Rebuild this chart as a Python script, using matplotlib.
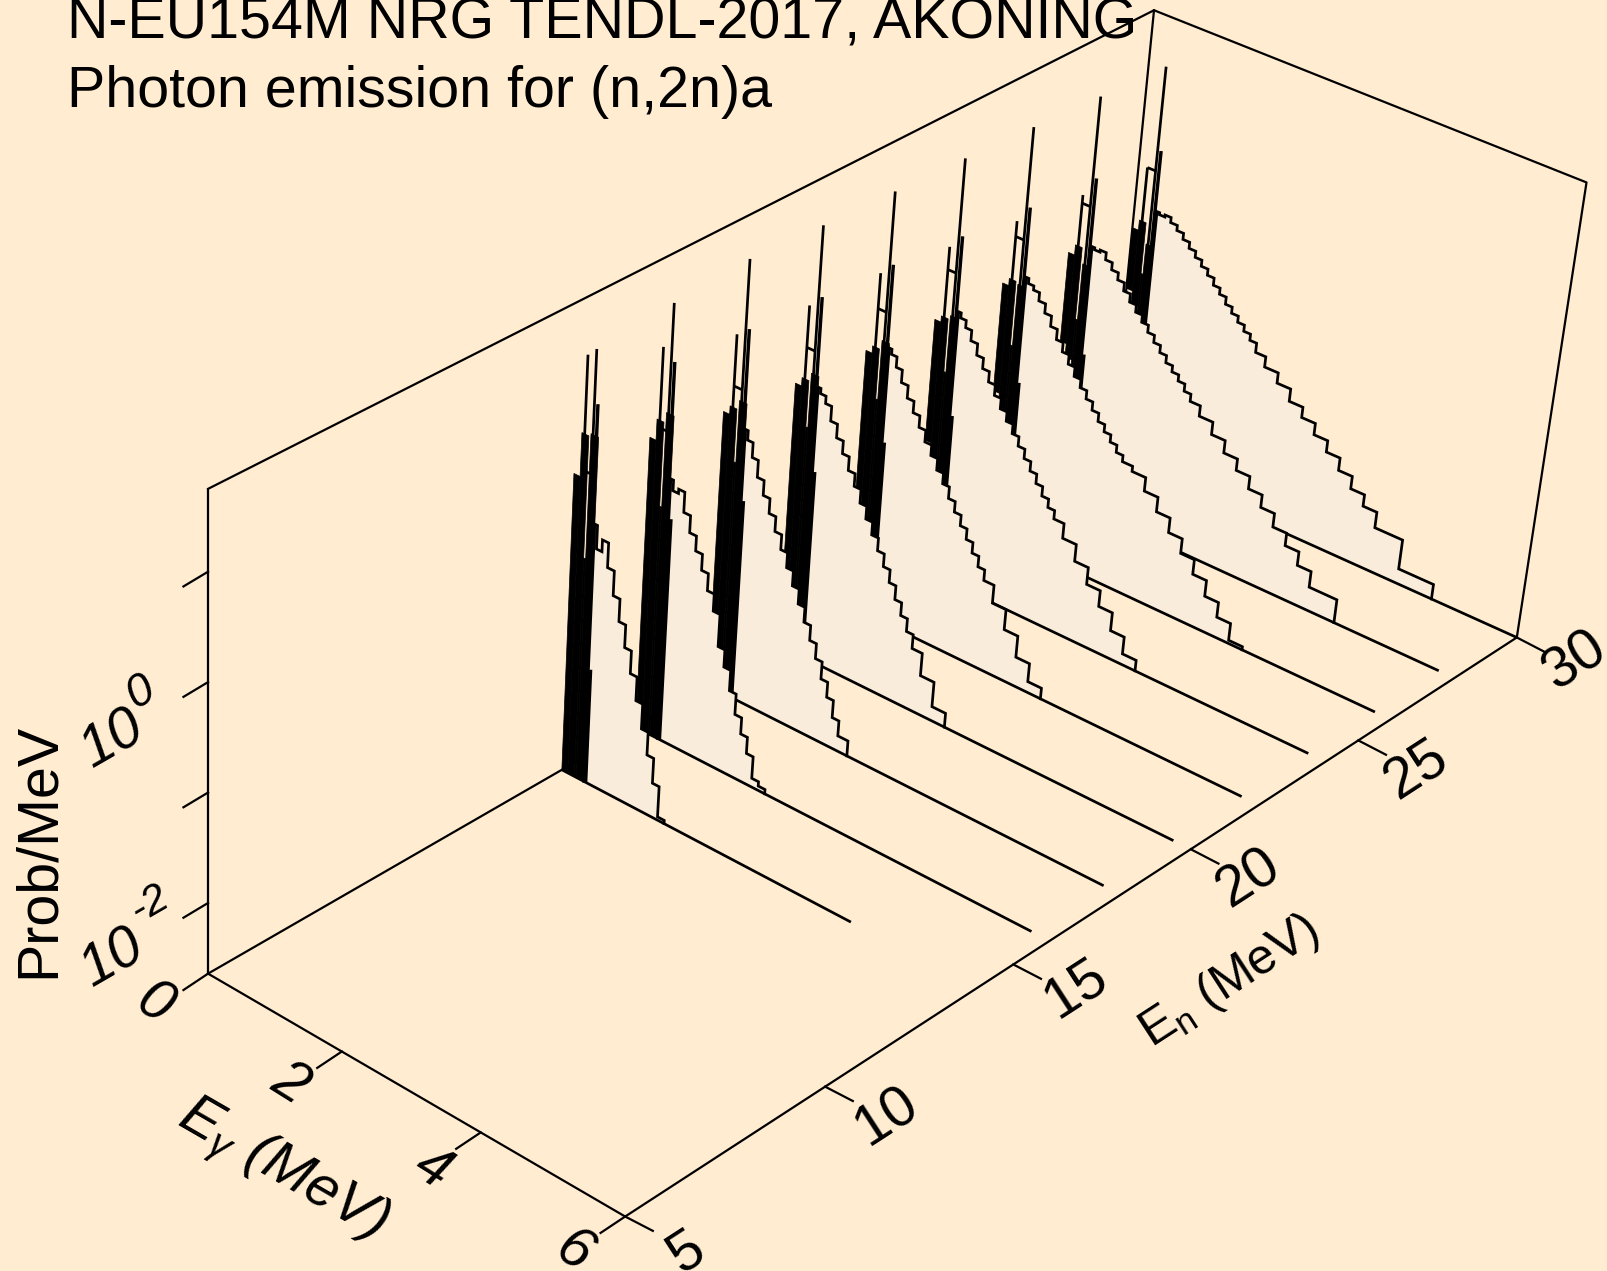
import numpy as np
import matplotlib
matplotlib.use('Agg')
import matplotlib.pyplot as plt

plt.rcParams['font.family'] = ['Liberation Sans', 'DejaVu Sans']
plt.rcParams['mathtext.fontset'] = 'custom'
plt.rcParams['mathtext.rm'] = 'Liberation Sans'
plt.rcParams['mathtext.it'] = 'Liberation Sans:italic'

# Dados: log10(Prob/MeV) por bin
en_values = [14, 16, 18, 20, 22, 24, 26, 28, 30]
baseline_end = [4.25, 5.75, 5.76, 5.76, 5.76, 5.76, 5.78, 5.78, 6.0]
eg_edges = [0.33, 0.37, 0.45, 0.54, 0.64, 0.74, 0.84, 0.94, 1.04, 1.14, 1.24, 1.34, 1.44, 1.54, 1.64, 1.74, 1.84, 1.94,
            2.09, 2.29, 2.49, 2.69, 2.89, 3.09, 3.29, 3.49, 3.69, 3.89, 4.29, 4.79]

cont_14 = [-0.24, -0.46, -0.35, -0.58, -0.81, -1.02, -1.23, -1.44, -1.66, -1.89, -2.10, -2.33, -2.61]
cont_16 = [-0.20, -0.30, -0.26, -0.45, -0.61, -0.75, -0.90, -1.06, -1.22, -1.52, -1.68, -1.87,
           -2.06, -2.21, -2.36, -2.56, -2.60]
cont_18 = [-0.11, -0.20, -0.34, -0.50, -0.64, -0.78, -0.92, -1.06, -1.20, -1.34, -1.48, -1.62, -1.76,
           -1.90, -2.06, -2.20, -2.36, -2.50]
cont_20 = [-0.08, -0.13, -0.20, -0.34, -0.47, -0.59, -0.72, -0.84, -0.97, -1.09, -1.21, -1.33, -1.45,
           -1.57, -1.70, -1.82, -1.94, -2.07, -2.28, -2.51]
cont_22 = [-0.07, -0.12, -0.22, -0.34, -0.46, -0.57, -0.68, -0.79, -0.89, -1.00, -1.10, -1.21, -1.31,
           -1.41, -1.51, -1.61, -1.71, -1.81, -1.98, -2.17, -2.37, -2.54]
cont_24 = [-0.08, -0.13, -0.20, -0.30, -0.41, -0.51, -0.61, -0.71, -0.81, -0.90, -0.99, -1.08, -1.17,
           -1.26, -1.35, -1.44, -1.52, -1.60, -1.74, -1.90, -2.06, -2.21, -2.38, -2.54]
cont_26 = [-0.10, -0.15, -0.19, -0.27, -0.36, -0.46, -0.56, -0.65, -0.74, -0.83, -0.91, -0.99, -1.07,
           -1.15, -1.22, -1.29, -1.36, -1.42, -1.47, -1.60, -1.74, -1.88, -2.02, -2.16, -2.31,
           -2.45, -2.61]
cont_28 = [-0.15, -0.17, -0.15, -0.22, -0.29, -0.36, -0.44, -0.52, -0.59, -0.66, -0.73, -0.80, -0.87,
           -0.94, -1.00, -1.06, -1.13, -1.20, -1.30, -1.42, -1.54, -1.65, -1.77, -1.89, -2.02,
           -2.14, -2.27, -2.42]
cont_30 = [-0.15, -0.17, -0.15, -0.20, -0.25, -0.31, -0.37, -0.43, -0.49, -0.55, -0.62, -0.68, -0.75,
           -0.81, -0.87, -0.93, -0.99, -1.08, -1.18, -1.28, -1.40, -1.50, -1.61, -1.72, -1.84,
           -1.96, -2.07, -2.22, -2.50]
continuum = [cont_14, cont_16, cont_18, cont_20, cont_22, cont_24, cont_26, cont_28, cont_30]

# Picos e massa preta em energia baixa
body_edges = [0.0, 0.09, 0.19, 0.22, 0.33]
body_hi = [[0.13, 0.54, -0.60, 0.57], [0.09, 0.29, -0.50, 0.39], [-0.04, 0.04, -0.46, 0.13],
           [-0.14, -0.06, -0.50, 0.02], [-0.19, -0.12, -0.60, -0.03], [-0.25, -0.19, -0.70, -0.15],
           [-0.25, -0.18, -0.80, -0.20], [-0.30, -0.20, -0.90, -0.35], [-0.40, -0.30, -0.80, -0.50]]
body_lo = [[-2.64, -2.64, -2.64, -2.64], [-2.43, -2.64, -2.64, -2.64], [-2.05, -2.25, -2.45, -2.64],
           [-1.95, -2.10, -2.25, -2.40], [-1.55, -1.70, -1.85, -2.00], [-1.42, -1.55, -1.68, -1.82],
           [-1.30, -1.43, -1.56, -1.70], [-1.17, -1.30, -1.42, -1.55], [-1.00, -1.12, -1.25, -1.37]]
spike1_eg, spike2_eg, spike3_eg, bar_eg = 0.13, 0.25, 0.30, 0.36
spike1_top = [1.28, 0.98, 0.73, 0.64, 0.59, 0.49, 0.39, 0.30, 0.23]
spike2_top = [1.37, 1.43, 1.48, 1.44, 1.41, 1.38, 1.34, 1.30, 1.26]
spike3_top = [0.87, 0.89, 0.83, 0.77, 0.72, 0.64, 0.57, 0.51, 0.44]
bridge_level = [0.20, 0.22, 0.24, 0.24, 0.25, 0.27, 0.24, 0.22, 0.23]
bar_top = [-1.59, -0.57, -0.78, -0.88, -0.97, -1.08, -1.12, -1.20, -1.30]

eg_ticks = [0, 2, 4, 6]
en_ticks = [5, 10, 15, 20, 25, 30]
z_ticks = [-2, -1, 0, 1]

bg_color = '#FFECD1'
fill_color = '#FAECDA'

# Limites da caixa 3D
eg_min, eg_max = 0.0, 6.0
en_min, en_max = 5.0, 30.0
z_min, z_max = -2.64, 1.75


def homography(corners):
    # cantos na ordem (0,0), (1,0), (1,1), (0,1)
    src = [(0, 0), (1, 0), (1, 1), (0, 1)]
    a = []
    b = []
    for (u, v), (x, y) in zip(src, corners):
        a.append([u, v, 1, 0, 0, 0, -u * x, -v * x])
        a.append([0, 0, 0, u, v, 1, -u * y, -v * y])
        b += [x, y]
    h = np.linalg.solve(np.array(a, float), np.array(b, float))
    return np.append(h, 1.0).reshape(3, 3)


k = 1607 / 1568
floor_h = homography([(203 * k, 950 * k), (610 * k, 1187 * k), (1480 * k, 622 * k), (1083 * k, 443 * k)])
top_h = homography([(203 * k, 477 * k), (640 * k, 701 * k), (1548 * k, 178 * k), (1126 * k, 10 * k)])


def proj(eg, en, z):
    # perspectiva: plano do chão e do topo, z interpolado
    eg = np.atleast_1d(np.asarray(eg, float))
    en = np.broadcast_to(en, eg.shape).astype(float)
    z = np.broadcast_to(z, eg.shape).astype(float)
    p = np.vstack([(eg - eg_min) / (eg_max - eg_min), (en - en_min) / (en_max - en_min), np.ones_like(eg)])
    f = floor_h @ p
    t = top_h @ p
    f = f[:2] / f[2]
    t = t[:2] / t[2]
    w = (z - z_min) / (z_max - z_min)
    return f[0] + w * (t[0] - f[0]), f[1] + w * (t[1] - f[1])


fig = plt.figure(figsize=(16.07, 12.71), dpi=100, facecolor=bg_color)
ax = fig.add_axes([0, 0, 1, 1])
ax.set_xlim(0, 1607)
ax.set_ylim(1271, 0)
ax.axis('off')

lw_box = 1.6
lw_curve = 1.95


def line3d(eg, en, z, lw=lw_box, zorder=2):
    x, y = proj(eg, en, z)
    ax.plot(x, y, color='k', lw=lw, solid_capstyle='butt', solid_joinstyle='miter', zorder=zorder)


# Caixa
line3d([eg_min, eg_max], en_min, z_min)
x0, y0 = proj(eg_max, en_min, z_min)
x1, y1 = proj(eg_max, en_max, z_min)
ax.plot([x0[0], x1[0]], [y0[0], y1[0]], color='k', lw=lw_box, zorder=2)
line3d([eg_min, eg_min], en_min, [z_min, z_max])
x0, y0 = proj(eg_min, en_min, z_max)
x1, y1 = proj(eg_min, en_max, z_max)
x2, y2 = proj(eg_max, en_max, z_max)
x3, y3 = proj(eg_max, en_max, z_min)
x4, y4 = proj(eg_min, en_max, z_min)
x5, y5 = proj(eg_min, en_min, z_min)
ax.plot([x0[0], x1[0], x2[0], x3[0]], [y0[0], y1[0], y2[0], y3[0]], color='k', lw=lw_box, zorder=2)
ax.plot([x1[0], x4[0]], [y1[0], y4[0]], color='k', lw=lw_box, zorder=2)
ax.plot([x5[0], x4[0]], [y5[0], y4[0]], color='k', lw=lw_box, zorder=2)

# Curvas de trás para a frente
zo = 3
for i in range(len(en_values) - 1, -1, -1):
    en = en_values[i]
    vals = continuum[i]
    edges = eg_edges[:len(vals) + 1]
    eg_s = [edges[0]]
    z_s = [z_min]
    for j, v in enumerate(vals):
        eg_s += [edges[j], edges[j + 1]]
        z_s += [v, v]
    eg_s.append(edges[len(vals)])
    z_s.append(z_min)
    x, y = proj(eg_s, en, z_s)
    ax.fill(x, y, color=fill_color, lw=0, zorder=zo)
    ax.plot(x, y, color='k', lw=lw_curve, solid_joinstyle='miter', zorder=zo + 0.1)
    line3d([0, baseline_end[i]], en, z_min, lw=lw_curve, zorder=zo + 0.1)

    # massa preta
    for j in range(4):
        e0, e1 = body_edges[j], body_edges[j + 1]
        hi, lo = body_hi[i][j], body_lo[i][j]
        x, y = proj([e0, e1, e1, e0], en, [lo, lo, hi, hi])
        ax.fill(x, y, color='k', lw=0.5, zorder=zo + 0.2)
    # picos
    base = body_lo[i][1]
    line3d([spike1_eg, spike1_eg], en, [base, spike1_top[i]], lw=lw_curve, zorder=zo + 0.2)
    line3d([spike2_eg, spike2_eg], en, [body_lo[i][3], spike2_top[i]], lw=lw_curve, zorder=zo + 0.2)
    line3d([spike3_eg, spike3_eg], en, [body_lo[i][3], spike3_top[i]], lw=lw_curve + 0.5, zorder=zo + 0.2)
    line3d([spike1_eg, spike2_eg], en, bridge_level[i], lw=lw_curve, zorder=zo + 0.2)
    line3d([bar_eg, bar_eg], en, [z_min, bar_top[i]], lw=lw_curve + 0.7, zorder=zo + 0.2)
    zo += 1

# Marcas dos eixos
tick_eg = np.array([-24, 16]) * k
tick_en = np.array([27, 14]) * k
for t in eg_ticks:
    x, y = proj(t, en_min, z_min)
    ax.plot([x[0], x[0] + tick_eg[0]], [y[0], y[0] + tick_eg[1]], color='k', lw=lw_box, zorder=2)
for t in en_ticks:
    x, y = proj(eg_max, t, z_min)
    ax.plot([x[0], x[0] + tick_en[0]], [y[0], y[0] + tick_en[1]], color='k', lw=lw_box, zorder=2)
for t in z_ticks:
    x, y = proj(eg_min, en_min, t)
    ax.plot([x[0], x[0] + tick_eg[0]], [y[0], y[0] + tick_eg[1] * 0.9], color='k', lw=lw_box, zorder=2)

fs = 41.3


def label(x, y, s, rot, size=fs, style='normal'):
    ax.text(x * k, y * k, s, fontsize=size, rotation=rot, ha='center', va='center',
            rotation_mode='anchor', style=style, zorder=30)


ax.text(65 * k, 38 * k, 'N-EU154M NRG TENDL-2017, AKONING', fontsize=fs, ha='left', va='baseline', zorder=30)
ax.text(65 * k, 104 * k, 'Photon emission for (n,2n)a', fontsize=fs, ha='left', va='baseline', zorder=30)

eg_label_pos = [(150, 980), (283, 1057), (422, 1140), (560, 1222)]
for t, (px, py) in zip(eg_ticks, eg_label_pos):
    label(px, py, str(t), -32, style='italic')
en_label_pos = [(670, 1222), (865, 1090), (1050, 965), (1218, 857), (1382, 752), (1537, 645)]
for t, (px, py) in zip(en_ticks, en_label_pos):
    label(px, py, str(t), 33)

label(275, 1142, r'E$_{\gamma}$ (MeV)', -30, style='italic')
label(1200, 958, r'E$_{\mathrm{n}}$ (MeV)', 33, size=36)
label(38, 830, 'Prob/MeV', 90)
label(110, 722, '10', 30, style='italic')
label(138, 675, '0', 30, size=33, style='italic')
label(110, 935, '10', 30, style='italic')
label(146, 882, '-2', 30, size=31, style='italic')

fig.savefig('out.png', dpi=100, facecolor=bg_color)
